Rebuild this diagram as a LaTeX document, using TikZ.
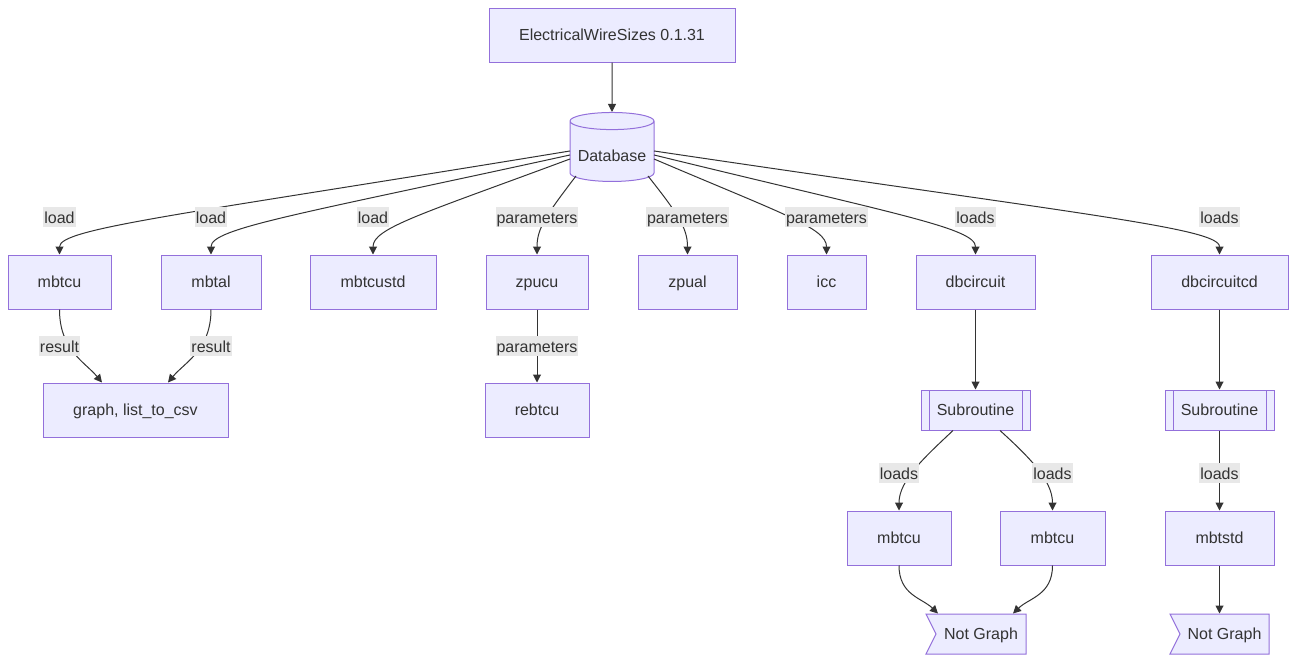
\documentclass[tikz,border=0pt]{standalone}
\usepackage{fontspec}
\setmainfont{Liberation Sans}
\usetikzlibrary{shapes.geometric,shapes.symbols,arrows.meta,calc}
\definecolor{boxfill}{HTML}{ECECFF}
\definecolor{boxline}{HTML}{9370DB}
\definecolor{ink}{HTML}{333333}
\definecolor{lblfill}{HTML}{E8E8E8}

\begin{document}
\begin{tikzpicture}[x=1pt,y=-1pt,
	every node/.style={font=\fontsize{16}{19}\selectfont, text=ink},
	box/.style={draw=boxline, fill=boxfill, line width=1pt, minimum height=54pt, inner sep=0pt,
		text height=11pt, text depth=0pt},
	subr/.style={box, minimum height=40pt,
		path picture={\draw[boxline, line width=1pt]
			([xshift=8pt]path picture bounding box.north west) -- ([xshift=8pt]path picture bounding box.south west)
			([xshift=-8pt]path picture bounding box.north east) -- ([xshift=-8pt]path picture bounding box.south east);}},
	flag/.style={draw=boxline, fill=boxfill, line width=1pt, signal, signal from=west, signal to=nowhere,
		signal pointer angle=127, minimum height=40pt, inner sep=0pt, text height=11pt, text depth=0pt},
	store/.style={cylinder, shape border rotate=90, aspect=0.25, draw=boxline, fill=boxfill, line width=1pt,
		minimum width=84pt, minimum height=69pt, inner sep=0pt, text height=20pt, text depth=0pt},
	lbl/.style={fill=lblfill, inner xsep=1pt, inner ysep=0pt, minimum height=20pt, text height=14.5pt, text depth=0.5pt},
	link/.style={draw=ink, line width=1pt, -{Triangle[length=8pt,width=8pt]}}
	]
	\useasboundingbox (0,0) rectangle (1296,662);
	
	% top of the tree
	\node[box, minimum width=246pt] (title) at (612,35) {ElectricalWireSizes 0.1.31};
	\node[store] (db) at (612,151.5) {Database};
	
	% first row
	\node[box, minimum width=103pt] (mbtcu) at (59.5,282) {mbtcu};
	\node[box, minimum width=100pt] (mbtal) at (211,282) {mbtal};
	\node[box, minimum width=126pt] (mbtcustd) at (373,282) {mbtcustd};
	\node[box, minimum width=102pt] (zpucu) at (537,282) {zpucu};
	\node[box, minimum width=99pt] (zpual) at (687.5,282) {zpual};
	\node[box, minimum width=79pt] (icc) at (826.5,282) {icc};
	\node[box, minimum width=119pt] (dbcircuit) at (975.5,282) {dbcircuit};
	\node[box, minimum width=137pt] (dbcircuitcd) at (1219.5,282) {dbcircuitcd};
	
	% second row
	\node[box, minimum width=185pt] (graph) at (135.5,410) {graph, list\_to\_csv};
	\node[box, minimum width=104pt] (rebtcu) at (537,410) {rebtcu};
	\node[subr, minimum width=109pt] (subA) at (975.5,410) {Subroutine};
	\node[subr, minimum width=109pt] (subB) at (1219.5,410) {Subroutine};
	
	% third and fourth rows
	\node[box, minimum width=104pt] (mbtcuA) at (899,538) {mbtcu};
	\node[box, minimum width=105pt] (mbtcuB) at (1052.5,538) {mbtcu};
	\node[box, minimum width=109pt] (mbtstd) at (1219.5,538) {mbtstd};
	\node[flag, minimum width=100pt] (nogA) at (981,634) {Not Graph};
	\node[flag, minimum width=99pt] (nogB) at (1224.5,634) {Not Graph};
	
	% connectors
	\draw[link] (title.south) -- (db.north);
	\draw[link] ($(db.north)+(-42,39)$) .. controls (187,214) and (59.5,228) .. (mbtcu.north);
	\draw[link] ($(db.north)+(-42,43)$) .. controls (301,214) and (211,228) .. (mbtal.north);
	\draw[link] ($(db.north)+(-42,47)$) .. controls (422,214) and (373,228) .. (mbtcustd.north);
	\draw[link] ($(db.north)+(-36,64)$) .. controls (547,214) and (537,228) .. (zpucu.north);
	\draw[link] ($(db.north)+(36,64)$) .. controls (678,214) and (687.5,228) .. (zpual.north);
	\draw[link] ($(db.north)+(42,47)$) .. controls (783,214) and (826.5,228) .. (icc.north);
	\draw[link] ($(db.north)+(42,43)$) .. controls (895,214) and (975.5,228) .. (dbcircuit.north);
	\draw[link] ($(db.north)+(42,39)$) .. controls (1078,214) and (1219.5,228) .. (dbcircuitcd.north);
	
	\draw[link] (mbtcu.south) .. controls (59.5,350) and (85,362) .. ($(graph.north)+(-33.5,0)$);
	\draw[link] (mbtal.south) .. controls (211,350) and (185,362) .. ($(graph.north)+(32.5,0)$);
	\draw[link] (zpucu.south) -- (rebtcu.north);
	\draw[link] (dbcircuit.south) -- (subA.north);
	\draw[link] (dbcircuitcd.south) -- (subB.north);
	
	\draw[link] ($(subA.south)+(-22.5,0)$) .. controls (926,456) and (899,480) .. (mbtcuA.north);
	\draw[link] ($(subA.south)+(24.5,0)$) .. controls (1028,456) and (1052.5,480) .. (mbtcuB.north);
	\draw[link] (subB.south) -- (mbtstd.north);
	
	\draw[link] (mbtcuA.south) .. controls (899,595) and (922,598) .. ($(nogA.north)+(-43,0)$);
	\draw[link] (mbtcuB.south) .. controls (1052.5,595) and (1029,598) .. ($(nogA.north)+(32,0)$);
	\draw[link] (mbtstd.south) -- ($(nogB.north)+(-5,0)$);
	
	% edge labels
	\node[lbl] (l1) at ($(mbtcu.north)+(0,-38)$) {load};
	\node[lbl] (l2) at ($(mbtal.north)+(0,-38)$) {load};
	\node[lbl] (l3) at ($(mbtcustd.north)+(0,-38)$) {load};
	\node[lbl] (l4) at ($(zpucu.north)+(0,-38)$) {parameters};
	\node[lbl] (l5) at ($(zpual.north)+(0,-38)$) {parameters};
	\node[lbl] (l6) at ($(icc.north)+(0,-38)$) {parameters};
	\node[lbl] (l7) at ($(dbcircuit.north)+(0,-38)$) {loads};
	\node[lbl] (l8) at ($(dbcircuitcd.north)+(0,-38)$) {loads};
	\node[lbl] (r1) at ($(mbtcu.south)+(0,36)$) {result};
	\node[lbl] (r2) at ($(mbtal.south)+(0,36)$) {result};
	\node[lbl] (p1) at ($(zpucu.south)+(0,36)$) {parameters};
	\node[lbl] (s1) at ($(mbtcuA.north)+(0,-38)$) {loads};
	\node[lbl] (s2) at ($(mbtcuB.north)+(0,-38)$) {loads};
	\node[lbl] (s3) at ($(mbtstd.north)+(0,-38)$) {loads};
\end{tikzpicture}
\end{document}
